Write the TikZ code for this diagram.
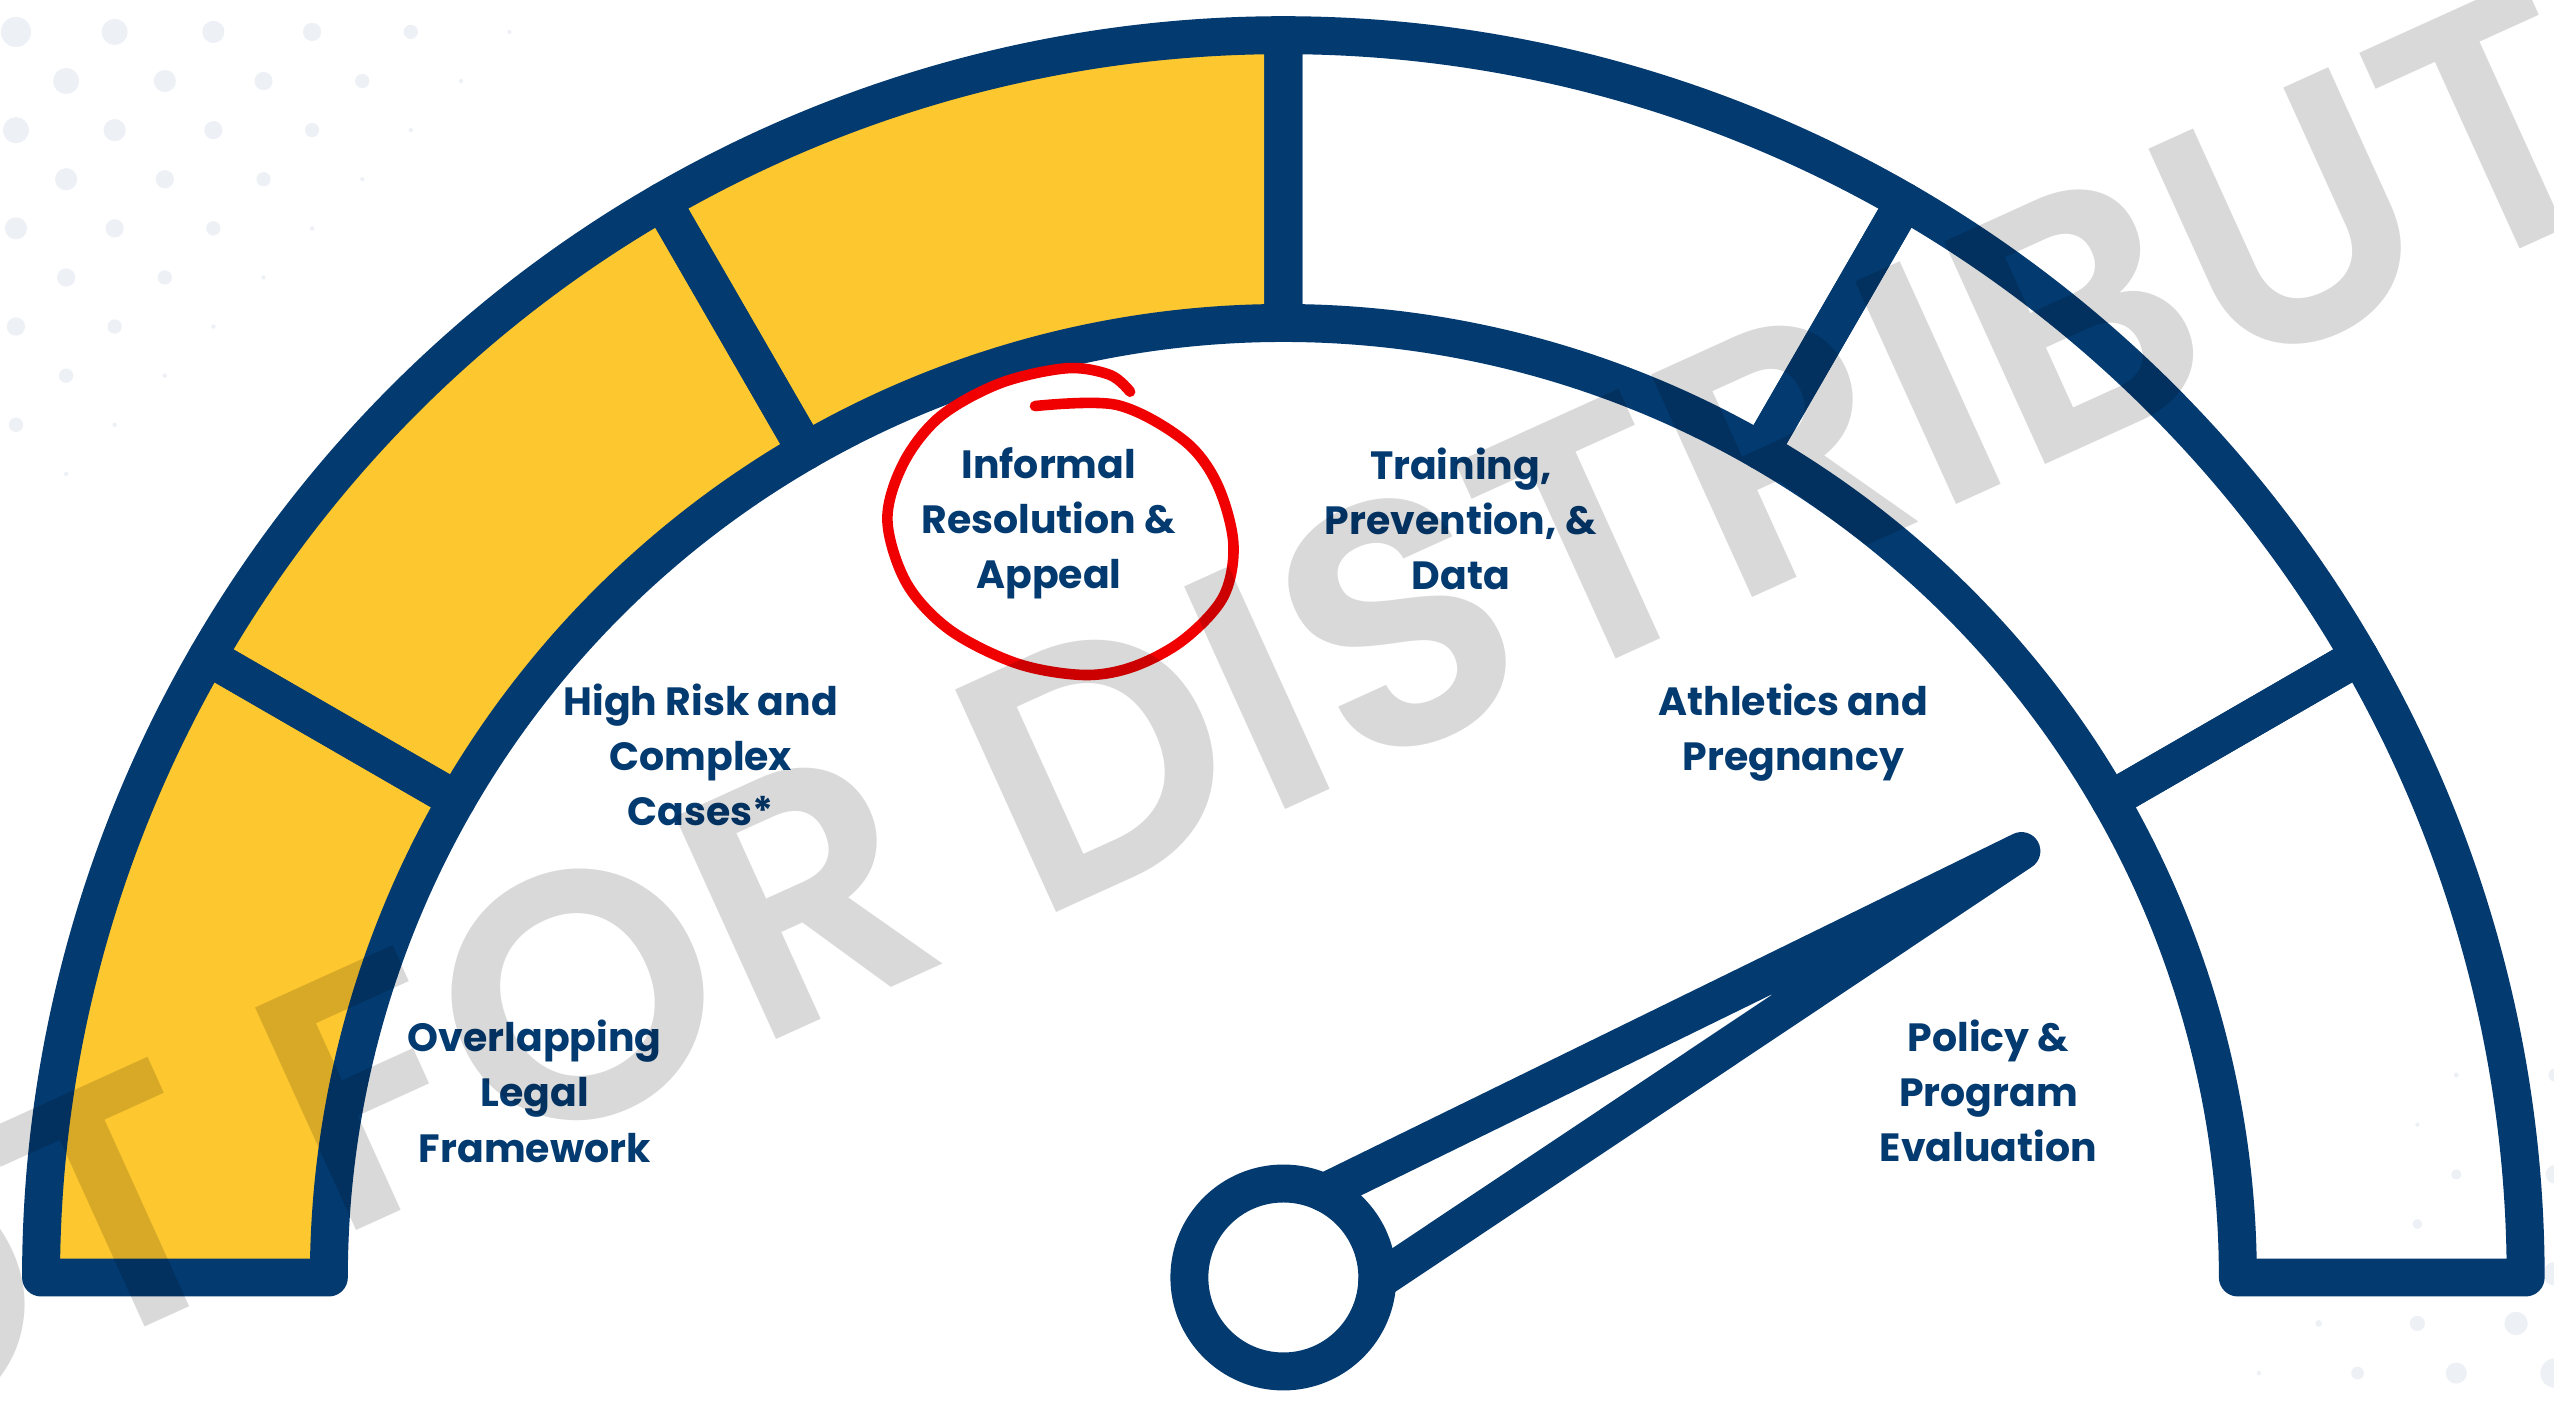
\documentclass[tikz,border=0pt]{standalone}
\usepackage{fontspec}
\usetikzlibrary{calc}
\newfontfamily\labelfont{Poppins}
\IfFontExistsTF{Poppins SemiBold}
  {\newfontfamily\markfont{Poppins SemiBold}}
  {\newfontfamily\markfont{Poppins}[FakeBold=1.2]}

\definecolor{gaugeblue}{HTML}{033A70}
\definecolor{gaugeyellow}{HTML}{FDC72F}
\definecolor{dotgray}{HTML}{EDF1F6}
\definecolor{markred}{HTML}{F00000}

% centred lines with a fixed baseline distance; baseline = first line
\newcommand\stackedlines[1]{\vtop{\halign{\hfil##\hfil\cr#1\crcr}}}

\begin{document}
\begin{tikzpicture}[x=1pt,y=1pt,
  rim/.style={draw=gaugeblue, line width=23.3pt, line join=round},
  gaugetext/.style={text=gaugeblue, inner sep=0pt, anchor=base,
    font=\labelfont\bfseries\fontsize{24.2}{33.9}\selectfont},
  dot/.style={fill=dotgray},
]
\useasboundingbox (0,0) rectangle (1568,862);
\fill[white] (0,0) rectangle (1568,862);
\clip (0,0) rectangle (1568,862);

% dotted corner textures
\foreach \k in {0,...,9}{
  \foreach \j in {0,...,6}{
    \pgfmathsetmacro\dx{(mod(\k,2)==0 ? 9.8 : 40.6) + 60.6*\j}
    \pgfmathsetmacro\dy{19.6 + 30.15*\k}
    \pgfmathsetmacro\rr{min(9.82 - 0.02*(\dx+\dy), 0.055*(356.1 - \dx - \dy))}
    \ifdim\rr pt>0.6pt \fill[dot] (\dx, 862-\dy) circle[radius=\rr]; \fi
  }
}
\foreach \k in {0,...,7}{
  \foreach \j in {0,...,4}{
    \pgfmathsetmacro\dx{(mod(\k,2)==0 ? -0.6 : 23.3) + 60.6*\j}
    \pgfmathsetmacro\dy{19 + 30.5*\k}
    \pgfmathsetmacro\rr{9.5 - 0.042*\dx - 0.027*\dy}
    \ifdim\rr pt>0.8pt \fill[dot] (1568-\dx, \dy) circle[radius=\rr]; \fi
  }
}

% gauge
\coordinate (pivot) at (787.9,77.7);
\def\Ro{762.7}
\def\Ri{586}
\foreach \a in {180,150,120}{
  \fill[gaugeyellow] ($(pivot)+(\a:\Ro)$) arc[start angle=\a, end angle=\a-30, radius=\Ro]
    -- ($(pivot)+(\a-30:\Ri)$) arc[start angle=\a-30, end angle=\a, radius=\Ri] -- cycle;
}
\foreach \a in {180,150,120,90,60,30}{
  \draw[rim] ($(pivot)+(\a:\Ro)$) arc[start angle=\a, end angle=\a-30, radius=\Ro]
    -- ($(pivot)+(\a-30:\Ri)$) arc[start angle=\a-30, end angle=\a, radius=\Ri] -- cycle;
}

% needle
\coordinate (tip) at (1241,339.5);
\coordinate (needleup) at ($(pivot)+(64.6:57.7)$);
\coordinate (needlelow) at ($(pivot)+(-2.2:57.7)$);
\draw[rim] (pivot) circle[radius=57.7];
\draw[rim, line cap=round] (needleup) -- (tip) -- (needlelow);

% segment labels
\node[gaugetext] (legal) at (328.3,216.3) {\stackedlines{Overlapping\cr Legal\cr Framework}};
\node[gaugetext] (risk) at (430.2,423) {\stackedlines{High Risk and\cr Complex\cr Cases*}};
\node[gaugetext] (informal) at (643.9,568.3) {\stackedlines{Informal\cr Resolution \&\cr Appeal}};
\node[gaugetext] (training) at (896.8,567.9) {\stackedlines{Training,\cr Prevention, \&\cr Data}};
\node[gaugetext] (athletics) at (1101,423) {\stackedlines{Athletics and\cr Pregnancy}};
\node[gaugetext] (policy) at (1220.8,216.7) {\stackedlines{Policy \&\cr Program\cr Evaluation}};

% hand-drawn red ring
\draw[markred, line width=6.5pt, line cap=round, line join=round]
  plot[smooth, tension=0.55] coordinates {
    (635.4,612.7) (685.6,613.4) (726.5,591.9) (747,565.3) (757.2,528.4)
    (751.1,495.7) (726.5,469.1) (695.8,452.7) (665.1,447.6) (624.2,454.7)
    (583.2,475.2) (556.6,503.9) (544.8,542.7) (554.6,577.5) (577.1,606.2)
    (614,626.7) (654.9,635.9) (681.5,631.8) (693.8,621.5)};

% stamp across the picture
\node[rotate=24.4, anchor=base, inner sep=0pt, text=black, text opacity=0.15,
  font=\markfont\fontsize{215}{215}\selectfont] (stamp) at (859,397) {NOT FOR DISTRIBUTION};
\end{tikzpicture}
\end{document}
